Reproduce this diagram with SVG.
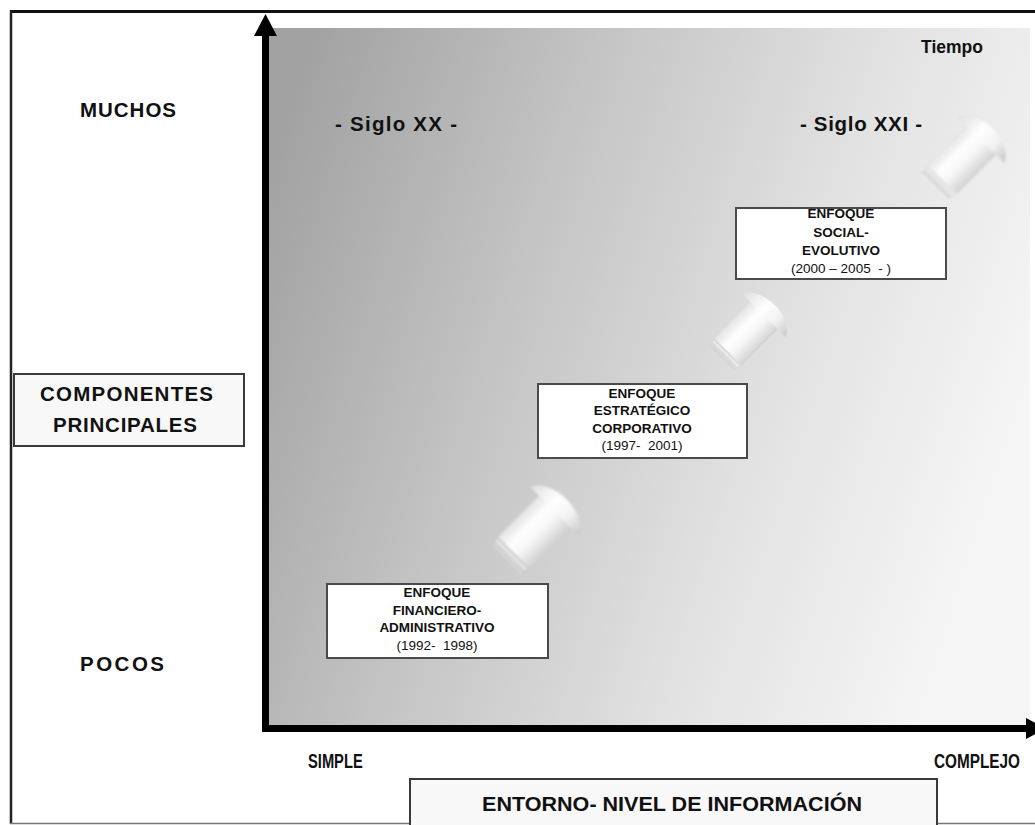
<svg xmlns="http://www.w3.org/2000/svg" width="1035" height="825" viewBox="0 0 1035 825">
  <defs>
    <style>
      text { font-family: "Liberation Sans", Arial, sans-serif; fill: #111; }
      .lbl { font-weight: bold; font-size: 20.5px; }
      .nar { font-weight: bold; font-size: 21px; }
      .bt { font-weight: bold; font-size: 13.5px; text-anchor: middle; }
      .yr { font-weight: normal; font-size: 13.5px; text-anchor: middle; }
      .box { fill: #ffffff; stroke: #4a4a4a; stroke-width: 2; }
      .lbox { fill: #f8f8f8; stroke: #3a3a3a; stroke-width: 2; }
      .axis { fill: #000; }
    </style>
    <linearGradient id="panelGrad" x1="0" y1="0.2" x2="1" y2="0.5">
      <stop offset="0" stop-color="#a2a2a2"/>
      <stop offset="0.35" stop-color="#c4c4c4"/>
      <stop offset="0.7" stop-color="#e2e2e2"/>
      <stop offset="1" stop-color="#f5f5f5"/>
    </linearGradient>
    <!-- shading across the arrow body (local y axis) -->
    <linearGradient id="bodyGrad" gradientUnits="userSpaceOnUse" x1="0" y1="-22" x2="0" y2="22">
      <stop offset="0" stop-color="#e4e4e4"/>
      <stop offset="0.35" stop-color="#ffffff"/>
      <stop offset="0.6" stop-color="#f6f6f6"/>
      <stop offset="1" stop-color="#d2d2d2"/>
    </linearGradient>
    <linearGradient id="headGrad" gradientUnits="userSpaceOnUse" x1="0" y1="-33" x2="0" y2="33">
      <stop offset="0" stop-color="#e0e0e0"/>
      <stop offset="0.4" stop-color="#ffffff"/>
      <stop offset="0.7" stop-color="#f2f2f2"/>
      <stop offset="1" stop-color="#cacaca"/>
    </linearGradient>
    <filter id="soft" x="-20%" y="-20%" width="140%" height="140%">
      <feGaussianBlur stdDeviation="0.9"/>
    </filter>
    <!-- block arrow pointing along +x, centred on the origin -->
    <g id="blockArrow" filter="url(#soft)">
      <rect x="-53" y="-20" width="3" height="40" fill="#d6d6d6"/>
      <rect x="-48" y="-21" width="3" height="42" fill="#ececec" stroke="#d0d0d0" stroke-width="0.6"/>
      <rect x="-43" y="-22" width="60" height="44" fill="url(#bodyGrad)"/>
      <path d="M15,-34 C26,-31 32,-14 32,0 C32,14 26,31 15,34 Z" fill="url(#headGrad)"/>
    </g>
  </defs>

  <!-- outer frame -->
  <g id="frame">
    <rect x="0" y="0" width="1035" height="825" fill="#ffffff"/>
    <line x1="10" y1="11.5" x2="1035" y2="11.5" stroke="#111" stroke-width="3"/>
    <line x1="11" y1="10" x2="11" y2="824" stroke="#222" stroke-width="2.5"/>
    <line x1="10" y1="823.5" x2="1035" y2="823.5" stroke="#777" stroke-width="1.5"/>
  </g>

  <!-- shaded plane between the axes -->
  <rect id="panel" x="269" y="28" width="761" height="697" fill="url(#panelGrad)"/>

  <!-- progression arrows -->
  <g id="arrows">
    <use href="#blockArrow" transform="translate(544,522) rotate(-45)"/>
    <use href="#blockArrow" transform="translate(755,325) rotate(-45) scale(0.88)"/>
    <use href="#blockArrow" transform="translate(971,150) rotate(-45) scale(0.95)"/>
  </g>

  <!-- axes -->
  <g id="axes">
    <rect class="axis" x="262" y="33" width="7" height="699"/>
    <polygon class="axis" points="254,36 265.5,14 277,36"/>
    <rect class="axis" x="262" y="725" width="766" height="7"/>
    <polygon class="axis" points="1026,718 1046,728.5 1026,739"/>
  </g>

  <!-- axis labels -->
  <g id="labels">
    <text class="lbl" x="80" y="117" textLength="96">MUCHOS</text>
    <text class="lbl" x="80" y="671" textLength="84">POCOS</text>
    <text class="lbl" x="983" y="53" text-anchor="end" style="font-size:17.5px">Tiempo</text>
    <text class="lbl" x="335" y="131" textLength="122">- Siglo XX -</text>
    <text class="lbl" x="800" y="131" textLength="122">- Siglo XXI -</text>
    <!-- condensed captions under the horizontal axis -->
    <text class="nar" transform="translate(308,768) scale(0.7,1)">SIMPLE</text>
    <text class="nar" transform="translate(934,768) scale(0.73,1)">COMPLEJO</text>
  </g>

  <g id="componentes">
    <rect class="lbox" x="14" y="374" width="230" height="72"/>
    <text class="lbl" x="40" y="401" textLength="173">COMPONENTES</text>
    <text class="lbl" x="53" y="432" textLength="144">PRINCIPALES</text>
  </g>

  <g id="entorno">
    <rect class="lbox" x="410" y="779" width="527" height="48"/>
    <text class="nar" x="482" y="811" textLength="380" lengthAdjust="spacingAndGlyphs">ENTORNO- NIVEL DE INFORMACIÓN</text>
  </g>

  <!-- approach boxes -->
  <g id="financiero">
    <rect class="box" x="327" y="584" width="221" height="74"/>
    <text class="bt" x="437" y="597">ENFOQUE</text>
    <text class="bt" x="437" y="614.5">FINANCIERO-</text>
    <text class="bt" x="437" y="632">ADMINISTRATIVO</text>
    <text class="yr" x="437" y="649.5" xml:space="preserve">(1992-  1998)</text>
  </g>

  <g id="estrategico">
    <rect class="box" x="538" y="384" width="209" height="74"/>
    <text class="bt" x="642" y="397.5">ENFOQUE</text>
    <text class="bt" x="642" y="415">ESTRATÉGICO</text>
    <text class="bt" x="642" y="432.5">CORPORATIVO</text>
    <text class="yr" x="642" y="450" xml:space="preserve">(1997-  2001)</text>
  </g>

  <g id="social">
    <rect class="box" x="736" y="208" width="210" height="71"/>
    <text class="bt" x="841" y="218">ENFOQUE</text>
    <text class="bt" x="841" y="236.5">SOCIAL-</text>
    <text class="bt" x="841" y="255">EVOLUTIVO</text>
    <text class="yr" x="841" y="273" xml:space="preserve">(2000 – 2005  - )</text>
  </g>
</svg>
